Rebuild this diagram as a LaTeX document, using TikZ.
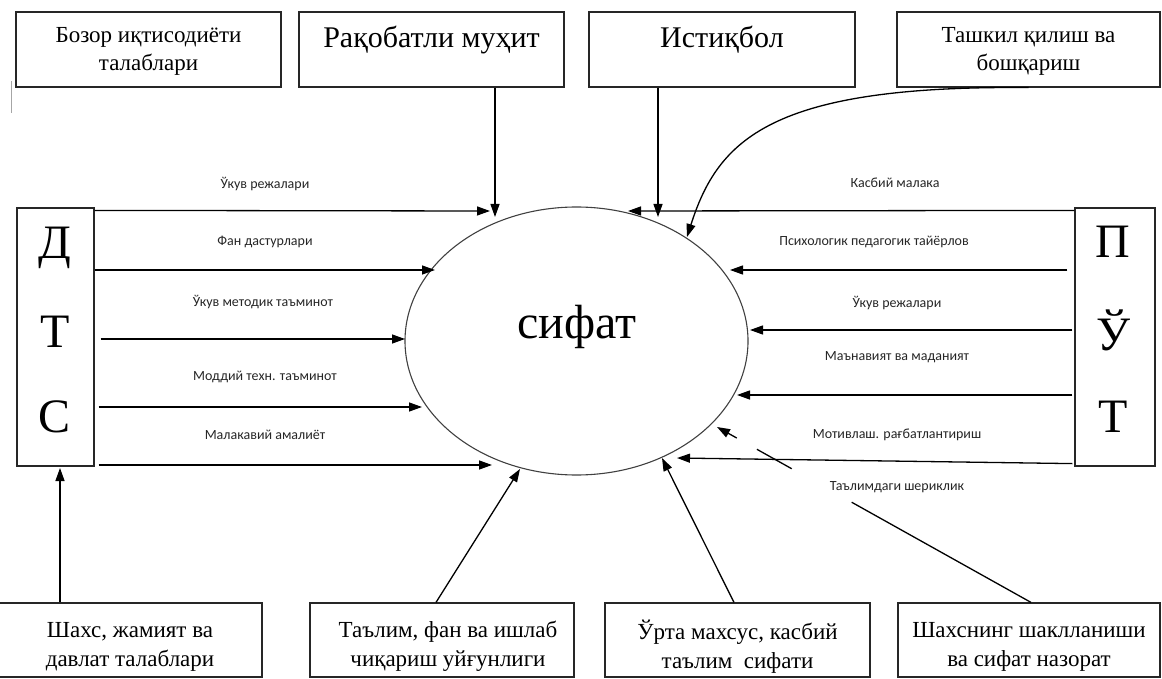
\documentclass[tikz,border=0pt]{standalone}
\usepackage{fontspec}
\setmainfont{Liberation Serif}
\newfontfamily\lblfont{Carlito}
\usetikzlibrary{arrows.meta,calc,shapes.geometric}

\begin{document}
\begin{tikzpicture}[x=1pt,y=-1pt,
  box/.style={draw=black!85, line width=1.2pt, inner sep=0pt, rectangle},
  boxtxt/.style={inner sep=0pt, align=center, font=\fontsize{23}{28}\selectfont},
  bigtxt/.style={inner sep=0pt, font=\fontsize{30}{30}\selectfont},
  letter/.style={inner sep=0pt, font=\fontsize{48}{48}\selectfont},
  conn/.style={line width=1.3pt, -{Triangle[length=13pt,width=9pt]}},
  plainln/.style={line width=1.3pt},
  lbl/.style={inner sep=0pt, text=black!85, font=\lblfont\fontsize{14}{14}\selectfont},
]
\useasboundingbox (0,0) rectangle (1162,679);

% small stray mark at the upper left
\draw[black!35, line width=0.8pt] (11,81) -- (11,113);

% ---------- upper boxes ----------
\node[box, minimum width=265pt, minimum height=75pt] (t1) at (148.5,49.5) {};
\node[boxtxt] (t1txt) at (148.5,51) {Бозор иқтисодиёти\\талаблари};
\node[box, minimum width=265pt, minimum height=75pt] (t2) at (431.5,49.5) {};
\node[bigtxt] (t2txt) at (431.5,40) {Рақобатли муҳит};
\node[box, minimum width=266pt, minimum height=75pt] (t3) at (722,49.5) {};
\node[bigtxt] (t3txt) at (722,40) {Истиқбол};
\node[box, minimum width=263pt, minimum height=75pt] (t4) at (1028.5,49.5) {};
\node[boxtxt] (t4txt) at (1028.5,51) {Ташкил қилиш ва\\бошқариш};

% ---------- side columns ----------
\node[box, minimum width=77pt, minimum height=258pt] (dts) at (55.5,337) {};
\node[letter] (dD) at (55,248) {Д};
\node[letter] (dT) at (55,332) {Т};
\node[letter] (dS) at (55,417) {С};

\node[box, minimum width=80pt, minimum height=258pt] (put) at (1115,337) {};
\node[letter] (pP) at (1113,242) {П};
\node[letter] (pU) at (1113,330) {Ў};
\node[letter] (pT) at (1113,417) {Т};

% ---------- central ellipse ----------
\node[draw=black!75, line width=1.1pt, ellipse, minimum width=343pt, minimum height=268pt, inner sep=0pt] (el) at (576.5,341) {};
\node[inner sep=0pt, font=\fontsize{48}{48}\selectfont] (sif) at (577,327) {сифат};

% ---------- lower boxes ----------
\node[box, minimum width=265pt, minimum height=74pt] (b1) at (129.5,640) {};
\node[boxtxt, font=\fontsize{23}{29}\selectfont] (b1txt) at (130,646.5) {Шахс, жамият ва\\давлат талаблари};
\node[box, minimum width=264pt, minimum height=74pt] (b2) at (442,640) {};
\node[boxtxt, font=\fontsize{23}{29}\selectfont] (b2txt) at (448,646.5) {Таълим, фан ва ишлаб\\чиқариш уйғунлиги};
\node[box, minimum width=265pt, minimum height=74pt] (b3) at (737.5,640) {};
\node[boxtxt, font=\fontsize{23}{29}\selectfont] (b3txt) at (737.5,646.5) {Ўрта махсус, касбий\\таълим\ \ сифати};
\node[box, minimum width=262pt, minimum height=74pt] (b4) at (1029,640) {};
\node[boxtxt, font=\fontsize{23}{29}\selectfont] (b4txt) at (1029,646.5) {Шахснинг шаклланиши\\ва сифат назорат};

% ---------- arrow tips at the ellipse ----------
\coordinate (L1) at (490,211);
\coordinate (L2) at (435,270);
\coordinate (L3) at (405,339);
\coordinate (L4) at (422,407);
\coordinate (L5) at (492,465);
\coordinate (T2) at (495,217);
\coordinate (T3) at (658,217);
\coordinate (C4) at (687,237);
\coordinate (R1) at (628,211);
\coordinate (R2) at (730,270);
\coordinate (R3) at (750,330);
\coordinate (R4) at (737,395);
\coordinate (R5) at (677,458);
\coordinate (B1) at (60,468);
\coordinate (B2) at (520,469);
\coordinate (B3) at (662,458);
\coordinate (B4) at (717,427);

% ---------- connectors from the left column ----------
\draw[conn] ([yshift=-3pt]dts.north east) -- (L1);
\draw[conn] (dts.east |- L2) -- (L2);
\draw[conn] ([xshift=6pt]dts.east |- L3) -- (L3);
\draw[conn] ([xshift=4pt]dts.east |- L4) -- (L4);
\draw[conn] ([xshift=4pt]dts.east |- L5) -- (L5);

% ---------- connectors from the upper boxes ----------
\draw[conn] (t2.south -| T2) -- (T2);
\draw[conn] (t3.south -| T3) -- (T3);
\draw[conn] (t4.south) .. controls (770,85) and (718,140) .. (C4);

% ---------- connectors from the right column ----------
\draw[conn] ([yshift=-3pt]put.north west) -- (R1);
\draw[conn] ([xshift=-7pt]put.west |- R2) -- (R2);
\draw[conn] ([xshift=-2pt]put.west |- R3) -- (R3);
\draw[conn] ([xshift=-2pt]put.west |- R4) -- (R4);
\draw[conn] ([xshift=-2pt,yshift=3pt]put.south west) -- (R5);

% ---------- connectors from the lower boxes ----------
\draw[conn] (b1.north -| B1) -- (B1);
\draw[conn] ([xshift=-6pt]b2.north) -- (B2);
\draw[conn] ([xshift=-3.5pt]b3.north) -- (B3);
\coordinate (b4s) at ([xshift=2pt]b4.north);
\draw[plainln] (b4s) -- ($(b4s)!0.571!(B4)$);
\draw[plainln] ($(b4s)!0.762!(B4)$) -- ($(b4s)!0.873!(B4)$);
\draw[conn] ($(b4s)!0.937!(B4)$) -- (B4);

% ---------- connector labels ----------
\node[lbl] (l1) at (265,184) {Ўкув режалари};
\node[lbl] (l2) at (265,242) {Фан дастурлари};
\node[lbl] (l3) at (263,302) {Ўкув методик таъминот};
\node[lbl] (l4) at (265,377) {Моддий техн. таъминот};
\node[lbl] (l5) at (265,435) {Малакавий амалиёт};

\node[lbl] (r1) at (895,183) {Касбий малака};
\node[lbl] (r2) at (874,242) {Психологик педагогик тайёрлов};
\node[lbl] (r3) at (897,303) {Ўкув режалари};
\node[lbl] (r4) at (897,357) {Маънавият ва маданият};
\node[lbl] (r5) at (897,435) {Мотивлаш. рағбатлантириш};
\node[lbl] (r6) at (897,487) {Таълимдаги шериклик};
\end{tikzpicture}
\end{document}
